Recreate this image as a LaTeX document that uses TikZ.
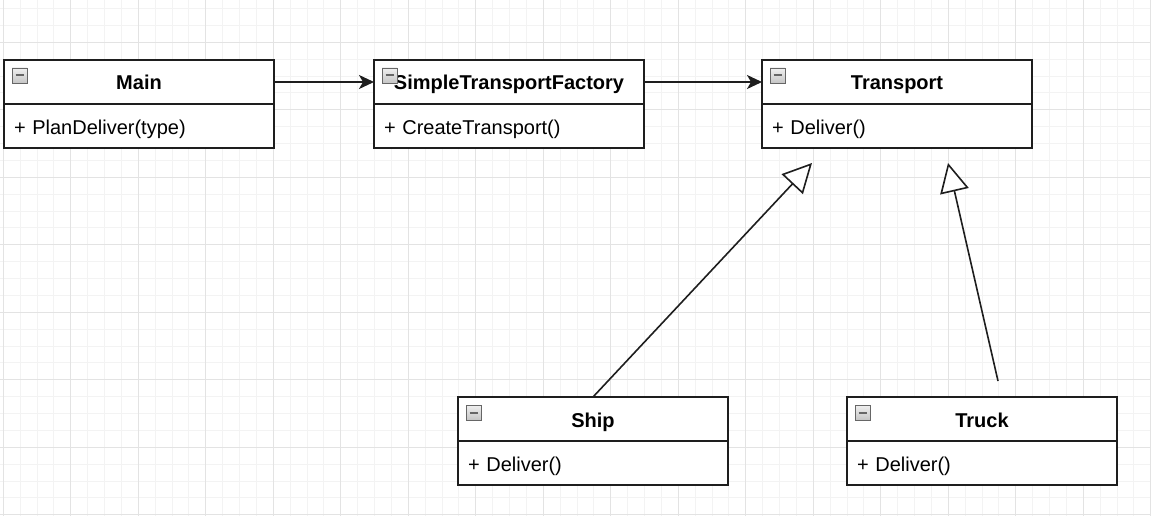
\documentclass[tikz,border=0pt]{standalone}
\usepackage{fontspec}
\setmainfont{Liberation Sans}
\usetikzlibrary{arrows.meta}
\usetikzlibrary{positioning}
\usetikzlibrary{calc}

\definecolor{gridminor}{HTML}{F3F3F3}
\definecolor{gridmajor}{HTML}{E3E3E3}
\definecolor{boxline}{HTML}{1E1E1E}

\tikzset{
  classhead/.style={draw=boxline, line width=1.5pt, fill=white, outer sep=0pt,
    minimum width=270pt, minimum height=44pt, inner sep=0pt,
    text height=20pt, text depth=4pt,
    font=\fontsize{20}{24}\selectfont\bfseries, anchor=north west},
  classbody/.style={draw=boxline, line width=1.5pt, fill=white, outer sep=0pt,
    text width=250pt, inner xsep=10pt, inner ysep=0pt, minimum height=44pt,
    text height=20pt, text depth=3pt,
    align=left, font=\fontsize{20}{24}\selectfont},
  assoc/.style={-{Stealth[length=15pt,width=14pt,inset=4pt]}, line width=1.6pt, draw=boxline},
  inherit/.style={-{Triangle[open,fill=white,length=29pt,width=29pt]}, line width=1.6pt, draw=boxline}
}

\newcommand{\minusicon}[1]{%
  \draw[draw=gray!80!black, top color=gray!12, bottom color=gray!45, line width=0.7pt]
    ($(#1.north west)+(8,8)$) rectangle ++(15,15);
  \draw[line width=2pt, black!60] ($(#1.north west)+(11.5,15.5)$) -- ++(8,0);
}

\begin{document}
\begin{tikzpicture}[x=1pt, y=-1pt]
%background
\fill[white] (0,0) rectangle (1151,516);
\useasboundingbox (0,0) rectangle (1151,516);

%grid
\foreach \i in {0,...,68} {
\draw[gridminor, line width=1pt] ({3.3+16.875*\i},0) -- ++(0,516);
}
\foreach \i in {0,...,30} {
\draw[gridminor, line width=1pt] (0,{8.55+16.875*\i}) -- ++(1151,0);
}
\foreach \i in {0,...,17} {
\draw[gridmajor, line width=1pt] ({3.3+67.5*\i},0) -- ++(0,516);
}
\foreach \i in {0,...,7} {
\draw[gridmajor, line width=1pt] (0,{42.3+67.5*\i}) -- ++(1151,0);
}

%classes
\node[classhead] (main) at (4,60) {Main};
\node[classbody, below=0pt of main] (mainbody) {+ PlanDeliver(type)};

\node[classhead] (factory) at (374,60) {SimpleTransportFactory};
\node[classbody, below=0pt of factory] (factorybody) {+ CreateTransport()};

\node[classhead] (transport) at (762,60) {Transport};
\node[classbody, below=0pt of transport] (transportbody) {+ Deliver()};

\node[classhead] (ship) at (458,397) {Ship};
\node[classbody, below=0pt of ship] (shipbody) {+ Deliver()};

\node[classhead] (truck) at (847,397) {Truck};
\node[classbody, below=0pt of truck] (truckbody) {+ Deliver()};

%collapse icons
\minusicon{main}
\minusicon{factory}
\minusicon{transport}
\minusicon{ship}
\minusicon{truck}

%associations
\draw[assoc] (main) -- (factory);
\draw[assoc] (factory) -- (transport);

%inheritance
\coordinate (shiptip) at ($(transportbody.south west)+(50,15)$);
\coordinate (trucktip) at ($(transportbody.south west)+(186,15)$);
\coordinate (truckend) at ($(truck.north)+(16,-16)$);
\draw[inherit] (ship.north) -- (shiptip);
\draw[inherit] (truckend) -- (trucktip);

\end{tikzpicture}
\end{document}
